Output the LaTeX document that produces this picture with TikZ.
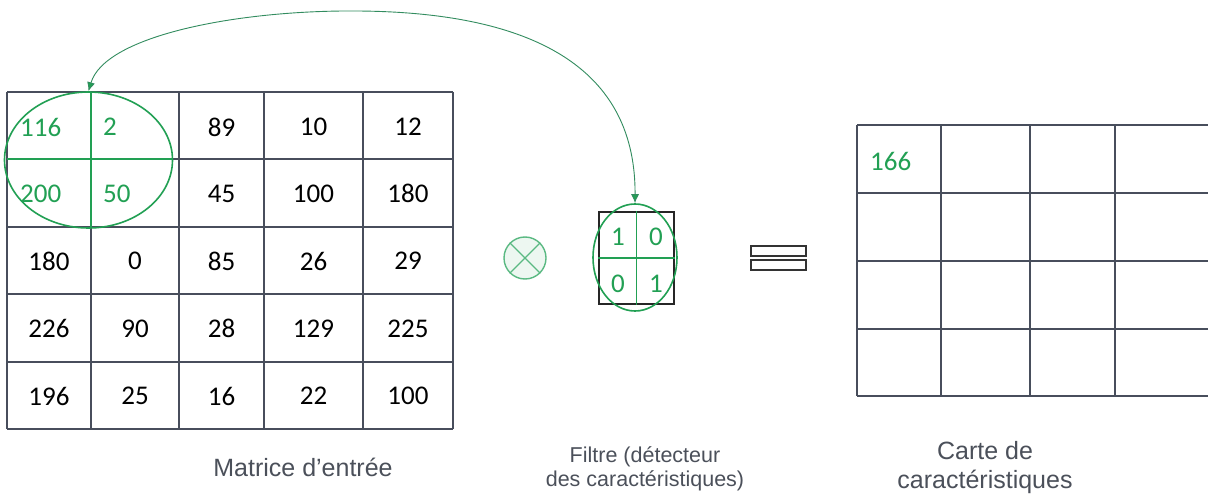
\documentclass[tikz,border=0pt]{standalone}
\usepackage{fontspec}
\setmainfont{Carlito}
\newfontfamily\labelfont{Liberation Sans}
\usetikzlibrary{shapes.geometric,arrows.meta}
\definecolor{gridc}{RGB}{72,78,92}
\definecolor{cgreen}{RGB}{34,160,84}
\definecolor{arcgreen}{RGB}{50,140,95}
\definecolor{lblc}{RGB}{75,80,90}
\definecolor{opgreen}{RGB}{90,185,130}
\begin{document}
\begin{tikzpicture}[x=1pt,y=-1pt,
  gridline/.style={draw=gridc,line width=1.8pt},
  num/.style={font=\fontsize{27}{32}\selectfont,text=black,inner sep=0pt,anchor=center},
  gnum/.style={font=\fontsize{27}{32}\selectfont,text=cgreen,inner sep=0pt,anchor=west},
  fnum/.style={font=\fontsize{27}{32}\selectfont,text=cgreen,inner sep=0pt,anchor=center},
  lbl/.style={font=\labelfont\fontsize{25}{30}\selectfont,text=lblc,inner sep=0pt,anchor=base},
  slbl/.style={font=\labelfont\fontsize{21.5}{24}\selectfont,text=lblc,inner sep=0pt,anchor=base},
  gline/.style={draw=cgreen,line width=1.6pt},
  oval/.style={ellipse,draw=cgreen,line width=1.6pt,inner sep=0pt},
]
\useasboundingbox (0,0) rectangle (1208,497);
\fill[white] (0,0) rectangle (1208,497);

% ---- input matrix grid ----
\foreach \x in {7,91,179,264,363,453} \draw[gridline] (\x,92) -- (\x,429);
\foreach \y in {92,159,227,294,362,429} \draw[gridline] (7,\y) -- (453,\y);

% green overlay on the 2x2 window
\draw[gline] (91,92) -- (91,227);
\draw[gline] (7,159) -- (172,159);
\node[oval,minimum width=168pt,minimum height=136pt] (win) at (88.5,160) {};

% ---- input values ----
\node[gnum] (m11) at (20,127) {116};
\node[gnum] (m12) at (103,127) {2};
\node[num]  (m13) at (221.5,127) {89};
\node[num]  (m14) at (313.5,127) {10};
\node[num]  (m15) at (408,127) {12};
\node[gnum] (m21) at (20,193.5) {200};
\node[gnum] (m22) at (103,193.5) {50};
\node[num]  (m23) at (221.5,193.5) {45};
\node[num]  (m24) at (313.5,193.5) {100};
\node[num]  (m25) at (408,193.5) {180};
\node[num]  (m31) at (49,261) {180};
\node[num]  (m32) at (135,261) {0};
\node[num]  (m33) at (221.5,261) {85};
\node[num]  (m34) at (313.5,261) {26};
\node[num]  (m35) at (408,261) {29};
\node[num]  (m41) at (49,328.5) {226};
\node[num]  (m42) at (135,328.5) {90};
\node[num]  (m43) at (221.5,328.5) {28};
\node[num]  (m44) at (313.5,328.5) {129};
\node[num]  (m45) at (408,328.5) {225};
\node[num]  (m51) at (49,396) {196};
\node[num]  (m52) at (135,396) {25};
\node[num]  (m53) at (221.5,396) {16};
\node[num]  (m54) at (313.5,396) {22};
\node[num]  (m55) at (408,396) {100};

% ---- convolution operator ----
\node[circle,draw=opgreen,fill=cgreen!8,line width=1.4pt,minimum size=42pt,inner sep=0pt] (op) at (525,258) {};
\draw[draw=opgreen,line width=1.4pt] (op.north west) -- (op.south east);
\draw[draw=opgreen,line width=1.4pt] (op.north east) -- (op.south west);

% ---- filter ----
\node[rectangle,draw=black!85,line width=1.8pt,minimum width=75pt,minimum height=92pt,inner sep=0pt] (filt) at (636.5,258) {};
\draw[gline] (filt.north) -- (filt.south);
\draw[gline] (filt.west) -- (filt.east);
\node[fnum] (f11) at (618,237) {1};
\node[fnum] (f12) at (656,237) {0};
\node[fnum] (f21) at (618,284) {0};
\node[fnum] (f22) at (656,284) {1};
\node[oval,minimum width=84pt,minimum height=107pt] (fov) at (635,257.5) {};

% ---- equals sign ----
\node[rectangle,draw=black!80,fill=white,line width=1.6pt,minimum width=55pt,minimum height=10pt,inner sep=0pt] (eqa) at (778.5,251) {};
\node[rectangle,draw=black!80,fill=white,line width=1.6pt,minimum width=55pt,minimum height=10pt,inner sep=0pt] (eqb) at (778.5,265) {};

% ---- feature map ----
\foreach \x in {857,941,1030,1115} \draw[gridline] (\x,125) -- (\x,396);
\foreach \y in {125,193,261,329,396} \draw[gridline] (857,\y) -- (1210,\y);
\node[gnum] (r11) at (870,161) {166};

% ---- arc between window and filter ----
\draw[draw=arcgreen,line width=0.9pt,{Latex[length=9pt,width=8pt,fill=cgreen]}-{Latex[length=9pt,width=8pt,fill=cgreen]}]
  (win.north) .. controls (105,35) and (240,10) .. (357,11)
  .. controls (520,12) and (636,60) .. (fov.north);

% ---- labels ----
\node[lbl] (lin) at (303,476) {Matrice d’entrée};
\node[slbl] (lf1) at (645,462) {Filtre (détecteur};
\node[slbl] (lf2) at (645,486) {des caractéristiques)};
\node[lbl] (lc1) at (985,459) {Carte de};
\node[lbl] (lc2) at (985,488) {caractéristiques};
\end{tikzpicture}
\end{document}
